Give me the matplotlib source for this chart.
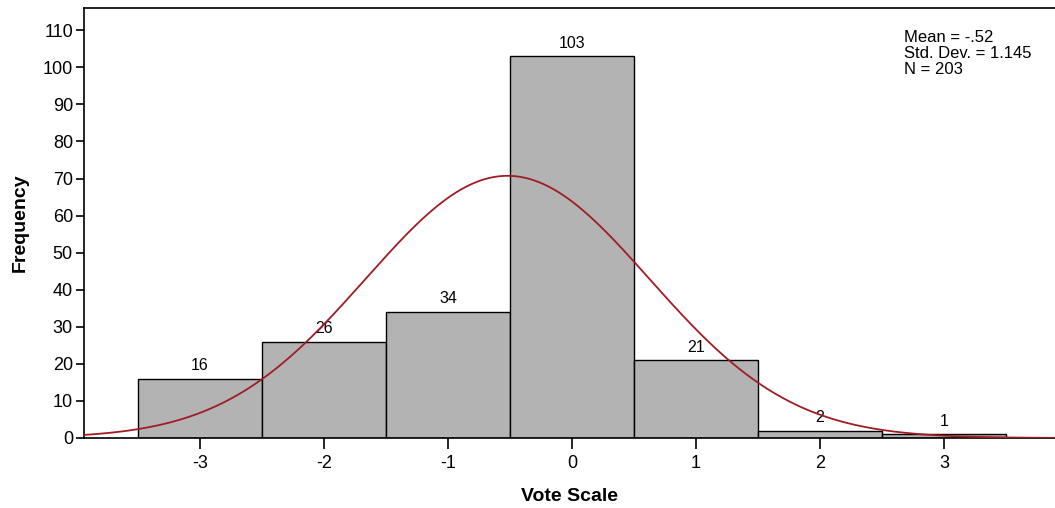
import numpy as np
import matplotlib.pyplot as plt

plt.rcParams['font.family'] = ['Liberation Sans', 'DejaVu Sans']
plt.rcParams['axes.unicode_minus'] = False

vote_scale = [-3, -2, -1, 0, 1, 2, 3]
frequency = [16, 26, 34, 103, 21, 2, 1]
mean_val = -0.52
std_dev = 1.145
n_total = 203

fig = plt.figure(figsize=(10.55, 5.08), dpi=100)
ax = fig.add_axes([84 / 1055, 70 / 508, 971 / 1055, 430 / 508])

ax.bar(vote_scale, frequency, width=1.0, color='#b3b3b3', edgecolor='black', linewidth=1.0, zorder=2)
for x, f in zip(vote_scale, frequency):
    ax.text(x, f + 1.5, str(f), ha='center', va='bottom', fontsize=11.5)

x_min, x_max = -3.935, 3.895
xs = np.linspace(x_min, x_max, 400)
curve = n_total * 1.0 / (std_dev * np.sqrt(2 * np.pi)) * np.exp(-0.5 * ((xs - mean_val) / std_dev) ** 2)
ax.plot(xs, curve, color='#a01c24', linewidth=1.3, zorder=3)

ax.set_xlim(x_min, x_max)
ax.set_ylim(0, 116)
ax.set_xticks(vote_scale)
ax.set_yticks(range(0, 111, 10))
ax.tick_params(axis='both', labelsize=13, width=1.2, direction='out')
ax.tick_params(axis='y', length=6, pad=2)
ax.tick_params(axis='x', length=8, pad=4)
ax.spines['right'].set_visible(False)
for s in ['left', 'top', 'bottom']:
    ax.spines[s].set_linewidth(1.2)

ax.set_xlabel('Vote Scale', fontsize=14, fontweight='bold', labelpad=12)
ax.set_ylabel('Frequency', fontsize=14, fontweight='bold', labelpad=10)

ax.text(0.844, 0.95, 'Mean = -.52\nStd. Dev. = 1.145\nN = 203', transform=ax.transAxes,
        ha='left', va='top', fontsize=12, linespacing=1.1)

fig.savefig('out.png', dpi=100)
